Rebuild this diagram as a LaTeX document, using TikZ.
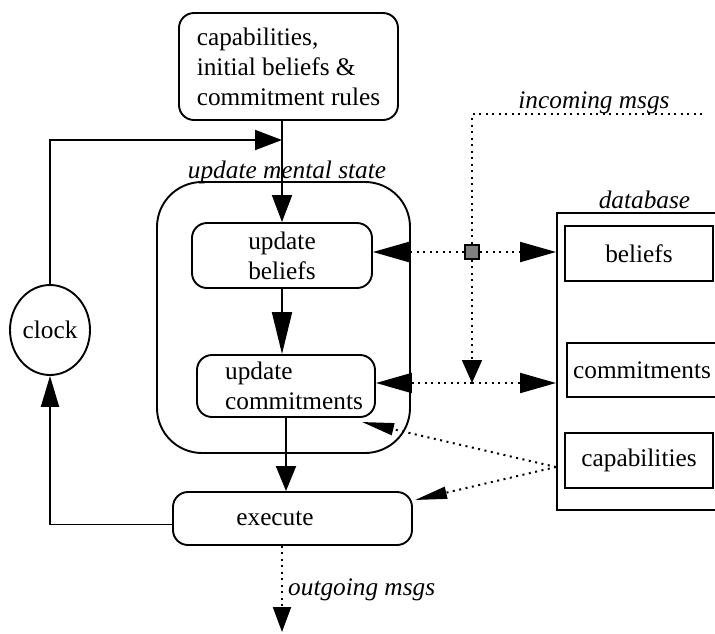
\documentclass[tikz,border=0pt]{standalone}
\usepackage{fontspec}
\setmainfont{Liberation Serif}
\usetikzlibrary{arrows.meta,shapes.geometric}
\begin{document}
\begin{tikzpicture}[x=1pt,y=-1pt,
  font=\fontsize{25.3}{30}\selectfont,
  every node/.style={inner sep=0pt},
  box/.style={draw, line width=1.9pt, rounded corners=15pt},
  plainbox/.style={draw, line width=1.9pt},
  lbl/.style={font=\fontsize{25.3}{30}\selectfont\itshape},
  flow/.style={line width=1.9pt, -{Triangle[length=30pt,width=20pt]}},
  msg/.style={line width=2pt, dash pattern=on 2pt off 4.5pt},
  bigtip/.style={-{Triangle[length=36pt,width=20pt]}},
  thintip/.style={-{Triangle[length=32pt,width=12pt]}}
]
\useasboundingbox (0,0) rectangle (715,633);

% control loop
\node[box, minimum width=219pt, minimum height=107pt, align=left] (init) at (288.5,66.5)
  {capabilities,\\initial beliefs \&\\commitment rules};
\node[box, rounded corners=45pt, minimum width=253pt, minimum height=271pt] (ms) at (283.5,317.5) {};
\node[box, minimum width=180pt, minimum height=65pt, align=center] (ub) at (282,255.5) {update\\beliefs};
\node[box, minimum width=178pt, minimum height=62pt] (uc) at (286,386) {};
\node[align=left] (uctext) at (294,386) {update\\commitments};
\node[box, minimum width=239pt, minimum height=53pt] (exec) at (292.5,518.5) {};
\node (exectext) at (275,518.5) {execute};
\node[draw, ellipse, line width=1.9pt, minimum width=80pt, minimum height=90pt] (clock) at (50,330) {clock};

% database
\node[plainbox, minimum width=163pt, minimum height=297pt] (db) at (638.5,361.5) {};
\node[plainbox, minimum width=148pt, minimum height=55pt] (bel) at (639,253.5) {beliefs};
\node[plainbox, minimum width=150pt, minimum height=54pt] (com) at (642,370) {commitments};
\node[plainbox, minimum width=148pt, minimum height=55pt] (cap) at (639,460.5) {capabilities};

% message hub
\node[draw, fill=gray, minimum size=14pt, line width=1.6pt] (hub) at (472,252) {};

% labels
\node[lbl, anchor=base] (mslabel) at (287,178) {update mental state};
\node[lbl, anchor=base] (dblabel) at (644.5,208) {database};
\node[lbl, anchor=base] (inlabel) at (594,108) {incoming msgs};
\node[lbl, anchor=base west] (outlabel) at (288,595) {outgoing msgs};

% solid flow
\coordinate (join) at (282,140);
\draw[flow, -{Triangle[length=27pt,width=20pt]}] (init.south -| ub.north) -- (ub.north);
\draw[flow, -{Triangle[length=27pt,width=20pt]}] (clock.north) |- (join);
\draw[flow, -{Triangle[length=42pt,width=20pt]}] (ub.south) -- (ub.south |- uc.north);
\draw[flow, -{Triangle[length=25pt,width=20pt]}] (uc.south) -- (uc.south |- exec.north);
\draw[flow, -{Triangle[length=31pt,width=18pt]}] ([yshift=-6pt]exec.west) -| (clock.south);

% messages
\draw[msg, bigtip] (hub.west) -- (hub.west -| ub.east);
\draw[msg, bigtip] (hub.east) -- (hub.east -| db.west);
\coordinate (inc) at (702,114);
\draw[msg] (inc) -| (hub.north);
\coordinate (cx) at (472,383);
\draw[msg, -{Triangle[length=23pt,width=20pt]}] (hub.south) -- (cx);
\draw[msg, bigtip] (cx) -- (cx -| uc.east);
\draw[msg, bigtip] (cx) -- (cx -| db.west);
\coordinate (capsrc) at (db.west |- 0,467);
\coordinate (t1) at (362,422);
\coordinate (t2) at (415,500);
\draw[msg, thintip] (capsrc) -- (t1);
\draw[msg, thintip] (capsrc) -- (t2);
\coordinate (outend) at (282,632);
\draw[msg, -{Triangle[length=25pt,width=18pt]}] (exec.south -| outend) -- (outend);
\end{tikzpicture}
\end{document}
